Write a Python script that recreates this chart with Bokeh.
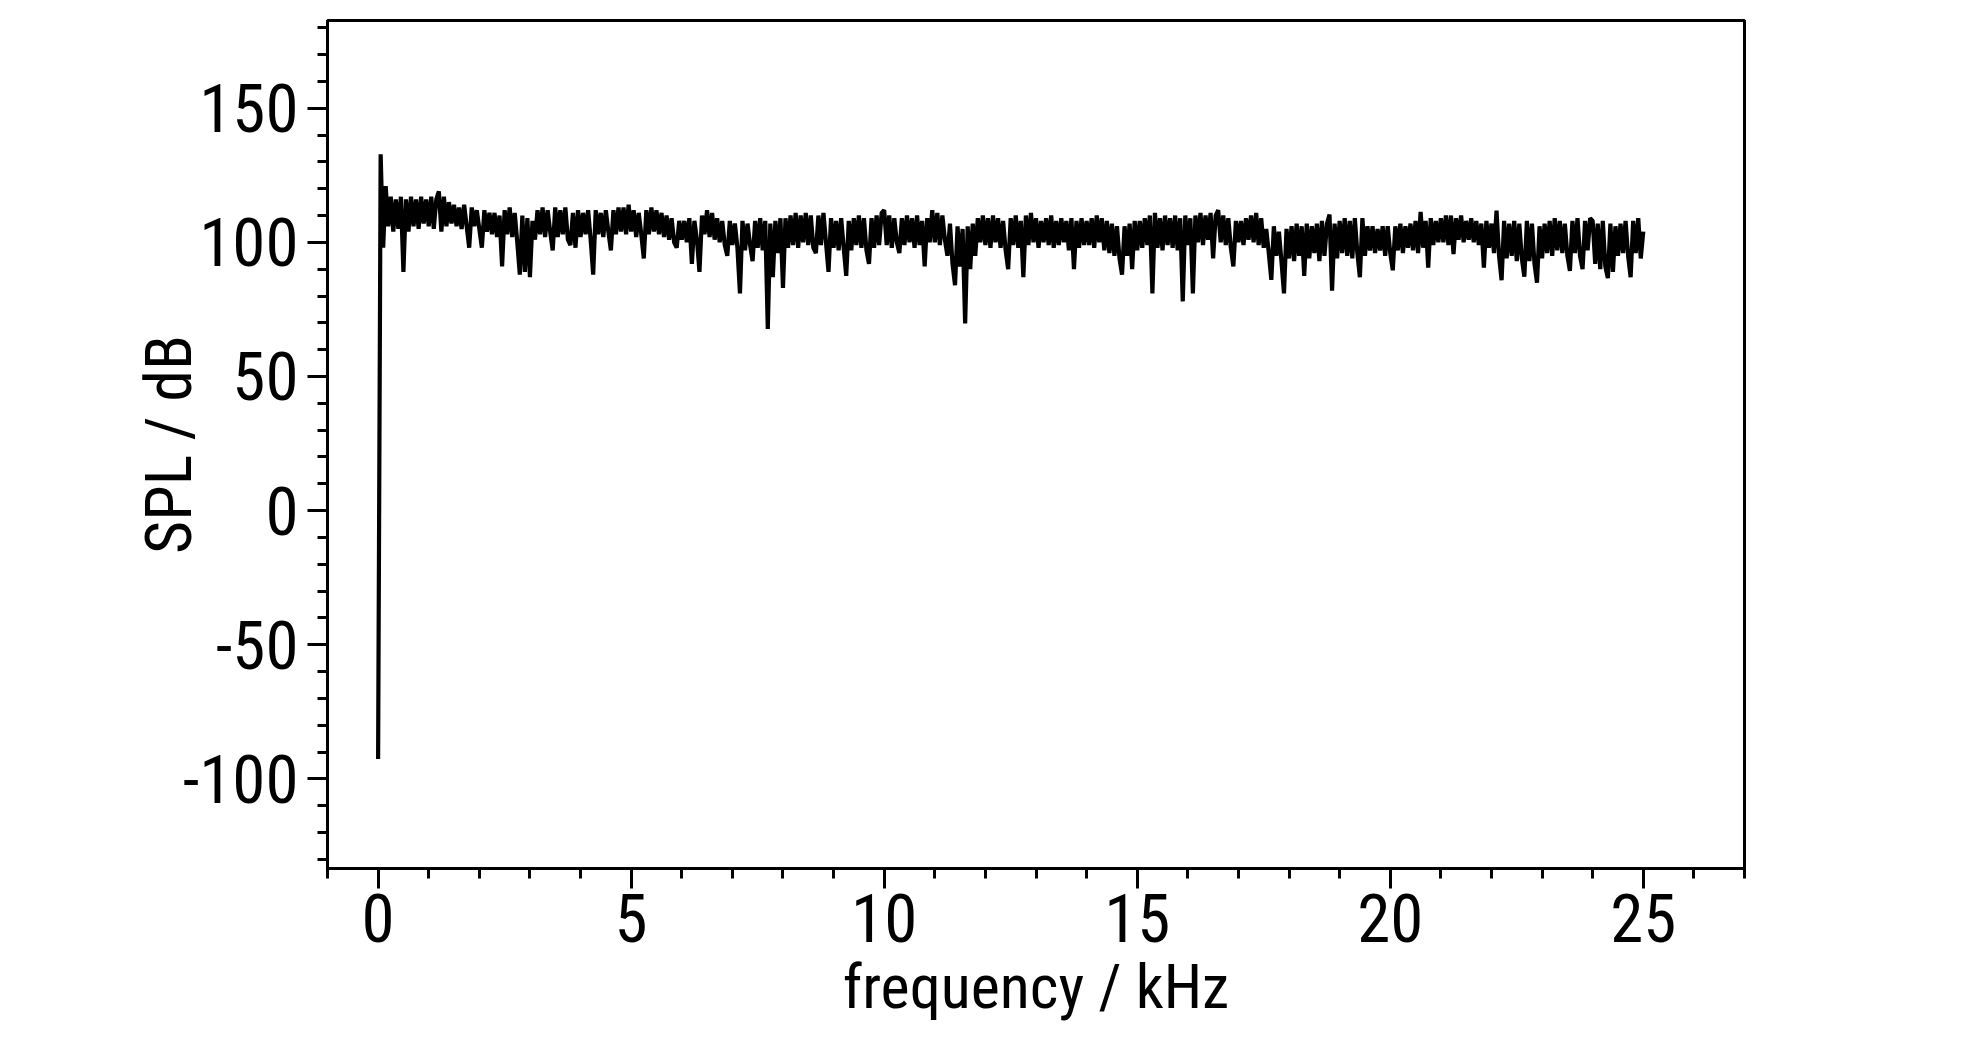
import numpy as np
from bokeh.plotting import figure
from bokeh.models import Range1d, FixedTicker
from bokeh.embed import file_html
from bokeh.resources import INLINE

# FFT bin spacing of the spectrum (kHz)
bin_step_khz = 0.05

# SPL per bin (dB), 20 bins per kHz
spl_db = [
    # 0-1 kHz
    -92.6, 132.8, 98, 121, 106, 117, 104, 116, 105, 117, 89, 116, 104, 117, 106, 116, 105, 117, 107, 116,
    # 1-2
    106, 117, 105, 116, 119, 104, 117, 106, 115, 107, 114, 106, 113, 105, 114, 106, 98, 113, 106, 112,
    # 2-3
    105, 98, 112, 104, 111, 103, 111, 102, 110, 91, 112, 103, 113, 102, 111, 100, 88, 110, 89, 109,
    # 3-4
    87, 108, 101, 112, 103, 113, 102, 112, 104, 97, 113, 102, 112, 103, 113, 101, 99, 111, 98, 112,
    # 4-5
    102, 111, 103, 112, 101, 88, 112, 103, 111, 102, 112, 104, 97, 112, 103, 113, 104, 113, 103, 114,
    # 5-6
    104, 112, 102, 111, 103, 94, 112, 103, 113, 104, 112, 103, 111, 102, 110, 101, 109, 100, 98, 108,
    # 6-7
    101, 108, 100, 109, 92, 108, 101, 89, 110, 103, 112, 102, 111, 101, 109, 100, 108, 99, 95, 108,
    # 7-8
    99, 107, 98, 81, 108, 97, 107, 99, 93, 108, 98, 109, 97, 108, 67.7, 107, 87, 108, 96, 109,
    # 8-9
    83, 109, 98, 110, 99, 111, 98, 110, 100, 111, 99, 110, 98, 96, 110, 99, 111, 100, 89, 109,
    # 9-10
    98, 108, 97, 109, 98, 87.5, 108, 97, 109, 99, 110, 98, 109, 97, 92, 109, 98, 110, 99, 111,
    # 10-11
    112, 99, 110, 98, 109, 100, 96, 109, 99, 110, 100, 109, 98, 110, 99, 108, 91, 109, 100, 112,
    # 11-12
    100, 111, 99, 110, 101, 95, 107, 92, 84, 106, 91, 105, 69.8, 106, 90, 107, 95, 109, 100, 110,
    # 12-13
    99, 109, 98, 110, 100, 109, 98, 108, 97, 90, 109, 99, 110, 98, 108, 87, 110, 99, 111, 100,
    # 13-14
    109, 98, 108, 100, 109, 99, 110, 98, 108, 99, 109, 100, 108, 97, 109, 90, 108, 98, 109, 99,
    # 14-15
    108, 99, 109, 98, 110, 100, 109, 97, 108, 96, 107, 95, 106, 94, 88, 106, 95, 107, 90, 108,
    # 15-16
    97, 108, 98, 109, 99, 110, 81, 111, 98, 109, 97, 110, 99, 109, 98, 110, 97, 109, 78, 110,
    # 16-17
    99, 109, 81, 110, 100, 111, 99, 110, 101, 111, 94, 110, 112, 100, 110, 99, 109, 98, 91, 108,
    # 17-18
    100, 108, 99, 109, 101, 110, 100, 111, 99, 109, 98, 105, 96, 86, 106, 95, 104, 93, 81, 105,
    # 18-19
    94, 106, 93, 107, 95, 106, 87.5, 107, 94, 106, 96, 107, 93, 108, 95, 107, 110.4, 82, 107, 94,
    # 19-20
    108, 96, 109, 95, 108, 94, 109, 96, 87, 109, 95, 106, 97, 106, 96, 105, 97, 106, 95, 106,
    # 20-21
    96, 89.6, 106, 97, 107, 96, 106, 98, 107, 97, 108, 96, 111.4, 98, 108, 90.6, 109, 99, 108, 100,
    # 21-22
    109, 100, 110, 99, 110, 95.6, 109, 101, 110, 100, 108, 101, 109, 100, 108, 99, 107, 90.6, 108, 98,
    # 22-23
    107, 96, 111.8, 95, 85.9, 108, 94, 107, 95, 108, 93, 107, 94, 87.2, 108, 93, 107, 92, 85, 106,
    # 23-24
    94, 107, 96, 108, 95, 109, 97, 108, 96, 107, 95, 89.4, 108, 96, 109, 95, 90, 108, 97, 109,
    # 24-25
    108, 92, 107, 90, 108, 91, 86.7, 107, 89, 106, 95, 107, 96, 108, 95, 87, 108, 96, 109, 94,
    104,
]

freq_khz = np.arange(len(spl_db)) * bin_step_khz

x_major_ticks = [0, 5, 10, 15, 20, 25]
x_minor_ticks = list(range(-1, 28))
y_major_ticks = [-100, -50, 0, 50, 100, 150]
y_minor_ticks = list(range(-130, 190, 10))
y_tick_labels = {-100: "-100", -50: "-50", 0: "0", 50: "50", 100: "100", 150: "150"}

x_label = "frequency / kHz"
y_label = "SPL / dB"

FONT = "Roboto Condensed, DejaVu Sans Condensed, Liberation Sans Narrow, Liberation Sans, sans-serif"

p = figure(
    width=1960, height=1025,
    output_backend="svg", toolbar_location=None,
    x_range=Range1d(-1.0, 27.0), y_range=Range1d(-133.4, 182.7),
    min_border_left=327, min_border_top=20, min_border_right=216, min_border_bottom=150,
)

p.line(freq_khz, spl_db, line_color="black", line_width=4.2)

p.xgrid.visible = False
p.ygrid.visible = False
p.outline_line_color = "black"
p.outline_line_width = 3
p.outline_line_alpha = 1.0

p.xaxis.ticker = FixedTicker(ticks=x_major_ticks, minor_ticks=x_minor_ticks)
p.yaxis.ticker = FixedTicker(ticks=y_major_ticks, minor_ticks=y_minor_ticks)
p.yaxis.major_label_overrides = y_tick_labels

for ax in (p.xaxis[0], p.yaxis[0]):
    ax.axis_line_width = 3
    ax.axis_line_color = "black"
    ax.major_tick_line_width = 3
    ax.minor_tick_line_width = 3
    ax.major_tick_out = 20
    ax.major_tick_in = 0
    ax.minor_tick_out = 10
    ax.minor_tick_in = 0
    ax.major_label_text_font = FONT
    ax.major_label_text_font_size = "67px"
    ax.major_label_text_color = "black"
    ax.axis_label_text_font = FONT
    ax.axis_label_text_font_style = "normal"
    ax.axis_label_text_color = "black"

p.xaxis.axis_label_text_font_size = "62px"
p.yaxis.axis_label_text_font_size = "64px"
p.xaxis.axis_label = x_label
p.yaxis.axis_label = y_label
p.xaxis.major_label_standoff = 5
p.yaxis.major_label_standoff = 9
p.xaxis.axis_label_standoff = 5
p.yaxis.axis_label_standoff = -27

open("out.html", "w").write(file_html(p, INLINE))
